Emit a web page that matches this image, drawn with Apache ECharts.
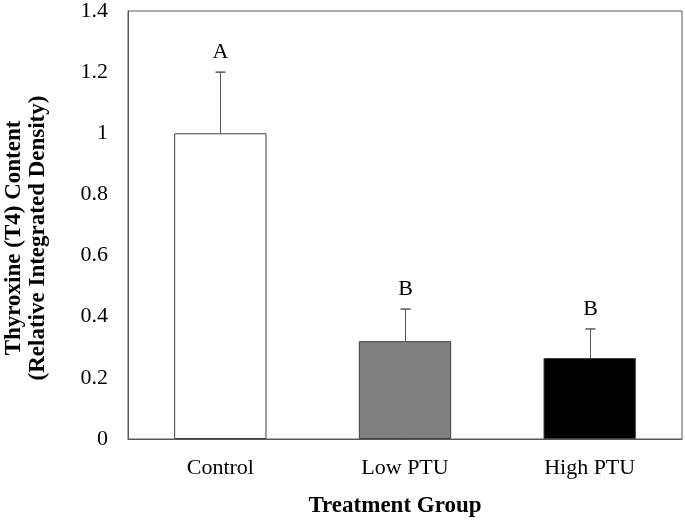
<!DOCTYPE html>
<html>
<head>
<meta charset="utf-8">
<script src="https://cdn.jsdelivr.net/npm/echarts@6/dist/echarts.min.js"></script>
<style>
  html, body { margin: 0; padding: 0; background: #fff; }
</style>
</head>
<body>
<div id="main" style="width:685px;height:522px"></div>
<script>
// data
const groups = ['Control', 'Low PTU', 'High PTU']
const means = [1.0, 0.32, 0.265]
const errUpper = [1.2, 0.425, 0.36]
const letters = ['A', 'B', 'B']
const barColors = ['#ffffff', '#808080', '#000000']

const FONT = '"Liberation Serif", "Times New Roman", serif'

let chart = echarts.init(document.getElementById('main'))

chart.setOption({
  animation: false,
  grid: {
    left: 128, right: 3, top: 11, bottom: 83,
    outerBoundsMode: 'none',
    show: true, borderColor: '#595959', borderWidth: 1
  },
  xAxis: {
    type: 'category',
    data: groups,
    name: 'Treatment Group',
    nameLocation: 'middle',
    nameGap: 56,
    nameTextStyle: {
      fontFamily: FONT, fontSize: 23, fontWeight: 'bold', color: '#000',
      padding: [0, 20, 0, 0]
    },
    axisLine: { lineStyle: { color: '#595959' } },
    axisTick: { show: false },
    axisLabel: { fontFamily: FONT, fontSize: 22, color: '#000', margin: 18 }
  },
  yAxis: {
    type: 'value',
    min: 0, max: 1.4, interval: 0.2,
    name: 'Thyroxine (T4) Content\n(Relative Integrated Density)',
    nameLocation: 'middle',
    nameRotate: 90,
    nameGap: 78,
    nameTextStyle: {
      fontFamily: FONT, fontSize: 23, fontWeight: 'bold', color: '#000',
      lineHeight: 24, padding: [0, 26, 0, 0]
    },
    axisLine: { show: true, lineStyle: { color: '#595959' } },
    axisTick: { show: false },
    splitLine: { show: false },
    axisLabel: { fontFamily: FONT, fontSize: 22, color: '#000', margin: 20 }
  },
  series: [
    {
      type: 'bar',
      barWidth: '50%',
      data: means.map((v, i) => ({
        value: v,
        itemStyle: { color: barColors[i], borderColor: '#404040', borderWidth: 1 }
      }))
    },
    {
      type: 'custom',
      data: errUpper.map((e, i) => [i, means[i], e]),
      renderItem: function (params, api) {
        let base = api.coord([api.value(0), api.value(1)])
        let top = api.coord([api.value(0), api.value(2)])
        let x = Math.round(base[0]) + 0.5
        let idx = params.dataIndex
        return {
          type: 'group',
          children: [
            { type: 'line', shape: { x1: x, y1: base[1], x2: x, y2: top[1] },
              style: { stroke: '#595959', lineWidth: 1 } },
            { type: 'line', shape: { x1: x - 5, y1: top[1], x2: x + 5, y2: top[1] },
              style: { stroke: '#595959', lineWidth: 1.5 } },
            { type: 'text', x: x, y: top[1] - 9,
              style: { text: letters[idx], fill: '#000', font: '22px ' + FONT,
                align: 'center', verticalAlign: 'bottom' } }
          ]
        }
      }
    }
  ]
})
</script>
</body>
</html>
